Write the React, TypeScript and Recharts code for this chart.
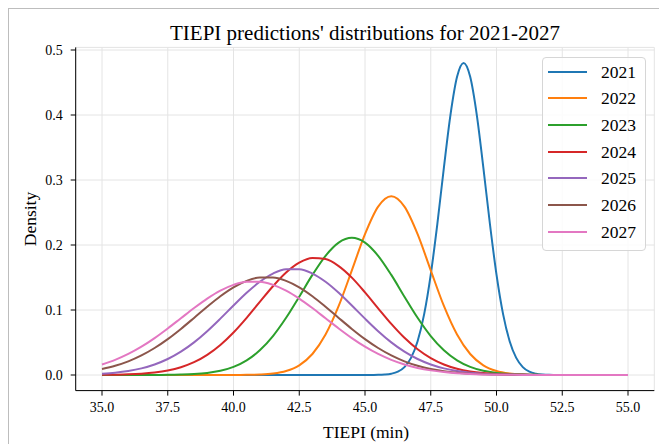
import React from 'react';
import { LineChart, Line, XAxis, YAxis, CartesianGrid } from 'recharts';

// x positions (min) for years 2022-2027
const xGrid = [35, 35.5, 36, 36.5, 37, 37.5, 38, 38.5, 39, 39.5, 40, 40.5, 41, 41.5, 42, 42.5, 43, 43.5, 44, 44.5, 45, 45.5, 46, 46.5, 47, 47.5, 48, 48.5, 49, 49.5, 50, 50.5, 51, 51.5, 52, 52.5, 53, 53.5, 54, 54.5, 55];

const s2022 = [0, 0, 0, 0, 0, 0, 0, 0, 0, 0, 0.0001, 0.0002, 0.0007, 0.0022, 0.0061, 0.0149, 0.0323, 0.0622, 0.1062, 0.161, 0.2168, 0.2591, 0.275, 0.2591, 0.2168, 0.161, 0.1062, 0.0622, 0.0323, 0.0149, 0.0061, 0.0022, 0.0007, 0.0002, 0.0001, 0, 0, 0, 0, 0, 0];
const s2023 = [0, 0, 0, 0, 0.0001, 0.0002, 0.0006, 0.0014, 0.0031, 0.0064, 0.0124, 0.0225, 0.038, 0.0599, 0.088, 0.1205, 0.154, 0.1834, 0.2037, 0.211, 0.2037, 0.1834, 0.154, 0.1205, 0.088, 0.0599, 0.038, 0.0225, 0.0124, 0.0064, 0.0031, 0.0014, 0.0006, 0.0002, 0.0001, 0, 0, 0, 0, 0, 0];
const s2024 = [0.0002, 0.0005, 0.001, 0.002, 0.0038, 0.0069, 0.012, 0.0197, 0.031, 0.0462, 0.0654, 0.088, 0.1125, 0.1366, 0.1577, 0.1729, 0.1801, 0.1783, 0.1676, 0.1498, 0.1271, 0.1026, 0.0786, 0.0572, 0.0396, 0.026, 0.0162, 0.0096, 0.0054, 0.0029, 0.0015, 0.0007, 0.0003, 0.0001, 0.0001, 0, 0, 0, 0, 0, 0];
const s2025 = [0.002, 0.0036, 0.0062, 0.0102, 0.0162, 0.0246, 0.0359, 0.0502, 0.0674, 0.0867, 0.1069, 0.1265, 0.1435, 0.1561, 0.1627, 0.1627, 0.1561, 0.1435, 0.1265, 0.1069, 0.0867, 0.0674, 0.0502, 0.0359, 0.0246, 0.0162, 0.0102, 0.0062, 0.0036, 0.002, 0.0011, 0.0005, 0.0003, 0.0001, 0.0001, 0, 0, 0, 0, 0, 0];
const s2026 = [0.0092, 0.0142, 0.021, 0.0301, 0.0415, 0.0552, 0.0709, 0.0878, 0.105, 0.1212, 0.1349, 0.1449, 0.1501, 0.1501, 0.1449, 0.1349, 0.1212, 0.105, 0.0878, 0.0709, 0.0552, 0.0415, 0.0301, 0.021, 0.0142, 0.0092, 0.0058, 0.0035, 0.0021, 0.0012, 0.0006, 0.0003, 0.0002, 0.0001, 0, 0, 0, 0, 0, 0, 0];
const s2027 = [0.0162, 0.0233, 0.0324, 0.0436, 0.0568, 0.0716, 0.0873, 0.103, 0.1176, 0.1299, 0.1387, 0.1434, 0.1434, 0.1387, 0.1299, 0.1176, 0.103, 0.0873, 0.0716, 0.0568, 0.0436, 0.0324, 0.0233, 0.0162, 0.0109, 0.0071, 0.0045, 0.0027, 0.0016, 0.0009, 0.0005, 0.0003, 0.0001, 0.0001, 0, 0, 0, 0, 0, 0, 0];

// 2021 is narrow: finer x sampling
const x2021 = [35, 45, 45.25, 45.5, 45.75, 46, 46.25, 46.5, 46.75, 47, 47.25, 47.5, 47.75, 48, 48.25, 48.5, 48.75, 49, 49.25, 49.5, 49.75, 50, 50.25, 50.5, 50.75, 51, 51.25, 51.5, 51.75, 52, 52.25, 52.5, 55];
const s2021 = [0, 0, 0.0001, 0.0002, 0.0007, 0.002, 0.0051, 0.0122, 0.0263, 0.052, 0.0937, 0.1544, 0.2323, 0.3191, 0.4003, 0.4587, 0.48, 0.4587, 0.4003, 0.3191, 0.2323, 0.1544, 0.0937, 0.052, 0.0263, 0.0122, 0.0051, 0.002, 0.0007, 0.0002, 0.0001, 0, 0];

const years = ['2021', '2022', '2023', '2024', '2025', '2026', '2027'];
const colors = ['#1f77b4', '#ff7f0e', '#2ca02c', '#d62728', '#9467bd', '#8c564b', '#e377c2'];
const xTicks = [35, 37.5, 40, 42.5, 45, 47.5, 50, 52.5, 55];
const yTicks = [0, 0.1, 0.2, 0.3, 0.4, 0.5];
const title = "TIEPI predictions' distributions for 2021-2027";
const xLabel = 'TIEPI (min)';
const yLabel = 'Density';

const rows = xGrid.map((x, i) => ({
  x,
  y2022: s2022[i],
  y2023: s2023[i],
  y2024: s2024[i],
  y2025: s2025[i],
  y2026: s2026[i],
  y2027: s2027[i],
}));
const rows2021 = x2021.map((x, i) => ({ x, y2021: s2021[i] }));

const FONT = "'Liberation Serif', 'Times New Roman', serif";

const XTick = (props: any) => {
  const { x, y, payload } = props;
  return (
    <text x={x} y={y} dy={10.5} textAnchor="middle" fill="#000" style={{ fontFamily: FONT, fontSize: 14 }}>
      {Number(payload.value).toFixed(1)}
    </text>
  );
};

const YTick = (props: any) => {
  const { x, y, payload } = props;
  return (
    <text x={x} y={y} dy={5} textAnchor="end" fill="#000" style={{ fontFamily: FONT, fontSize: 14 }}>
      {Number(payload.value).toFixed(1)}
    </text>
  );
};

export default function App() {
  return (
    <div style={{ position: 'relative', width: 659, height: 439, fontFamily: FONT, color: '#000' }}>
      <div
        style={{
          position: 'absolute',
          left: -1,
          top: -1,
          width: 655,
          height: 435,
          borderLeft: '2px solid #bdbdbd',
          borderTop: '2px solid #bdbdbd',
        }}
      />
      <LineChart
        width={659}
        height={439}
        data={rows}
        margin={{ top: 39.4, right: 12.7, bottom: 26.4, left: 0 }}
        style={{ fontFamily: FONT }}
      >
        <CartesianGrid stroke="#e4e4e4" strokeWidth={1} />
        <XAxis
          dataKey="x"
          type="number"
          domain={[34, 56]}
          ticks={xTicks}
          allowDataOverflow
          height={30}
          tickSize={5}
          tickMargin={6}
          stroke="#000"
          tick={<XTick />}
        />
        <YAxis
          type="number"
          domain={[-0.024, 0.504]}
          ticks={yTicks}
          allowDataOverflow
          width={67.7}
          tickSize={5}
          tickMargin={8}
          stroke="#000"
          tick={<YTick />}
        />
        <XAxis
          xAxisId="top"
          orientation="top"
          type="number"
          domain={[34, 56]}
          height={0}
          tick={false}
          tickLine={false}
          stroke="#000"
        />
        <YAxis
          yAxisId="right"
          orientation="right"
          type="number"
          domain={[-0.024, 0.504]}
          width={0}
          tick={false}
          tickLine={false}
          stroke="#000"
        />
        <Line
          data={rows2021}
          dataKey="y2021"
          type="monotone"
          stroke={colors[0]}
          strokeWidth={2}
          dot={false}
          isAnimationActive={false}
        />
        {years.slice(1).map((y, i) => (
          <Line
            key={y}
            dataKey={'y' + y}
            type="monotone"
            stroke={colors[i + 1]}
            strokeWidth={2}
            dot={false}
            isAnimationActive={false}
          />
        ))}
      </LineChart>
      <div
        style={{
          position: 'absolute',
          left: 107,
          top: 13,
          width: 500,
          textAlign: 'center',
          fontSize: 21,
          lineHeight: '24px',
          whiteSpace: 'nowrap',
        }}
      >
        {title}
      </div>
      <div
        style={{
          position: 'absolute',
          left: 258,
          top: 413,
          width: 200,
          textAlign: 'center',
          fontSize: 17.5,
          lineHeight: '22px',
        }}
      >
        {xLabel}
      </div>
      <div
        style={{
          position: 'absolute',
          left: -78.5,
          top: 200,
          width: 200,
          height: 22,
          textAlign: 'center',
          fontSize: 17.5,
          lineHeight: '22px',
          transform: 'rotate(-90deg)',
        }}
      >
        {yLabel}
      </div>
      <div
        style={{
          position: 'absolute',
          left: 533.7,
          top: 49.3,
          width: 104,
          height: 194,
          boxSizing: 'border-box',
          border: '1px solid #d6d6d6',
          borderRadius: 4,
          background: 'rgba(255,255,255,0.85)',
        }}
      >
        {years.map((y, i) => (
          <div
            key={y}
            style={{
              position: 'absolute',
              left: 0,
              top: 0.4 + i * 26.7,
              height: 26,
              width: 102,
            }}
          >
            <div style={{ position: 'absolute', left: 5, width: 39, height: 2, top: 12, background: colors[i] }} />
            <span style={{ position: 'absolute', left: 58.3, fontSize: 17.5, lineHeight: '26px', top: 0 }}>{y}</span>
          </div>
        ))}
      </div>
    </div>
  );
}
